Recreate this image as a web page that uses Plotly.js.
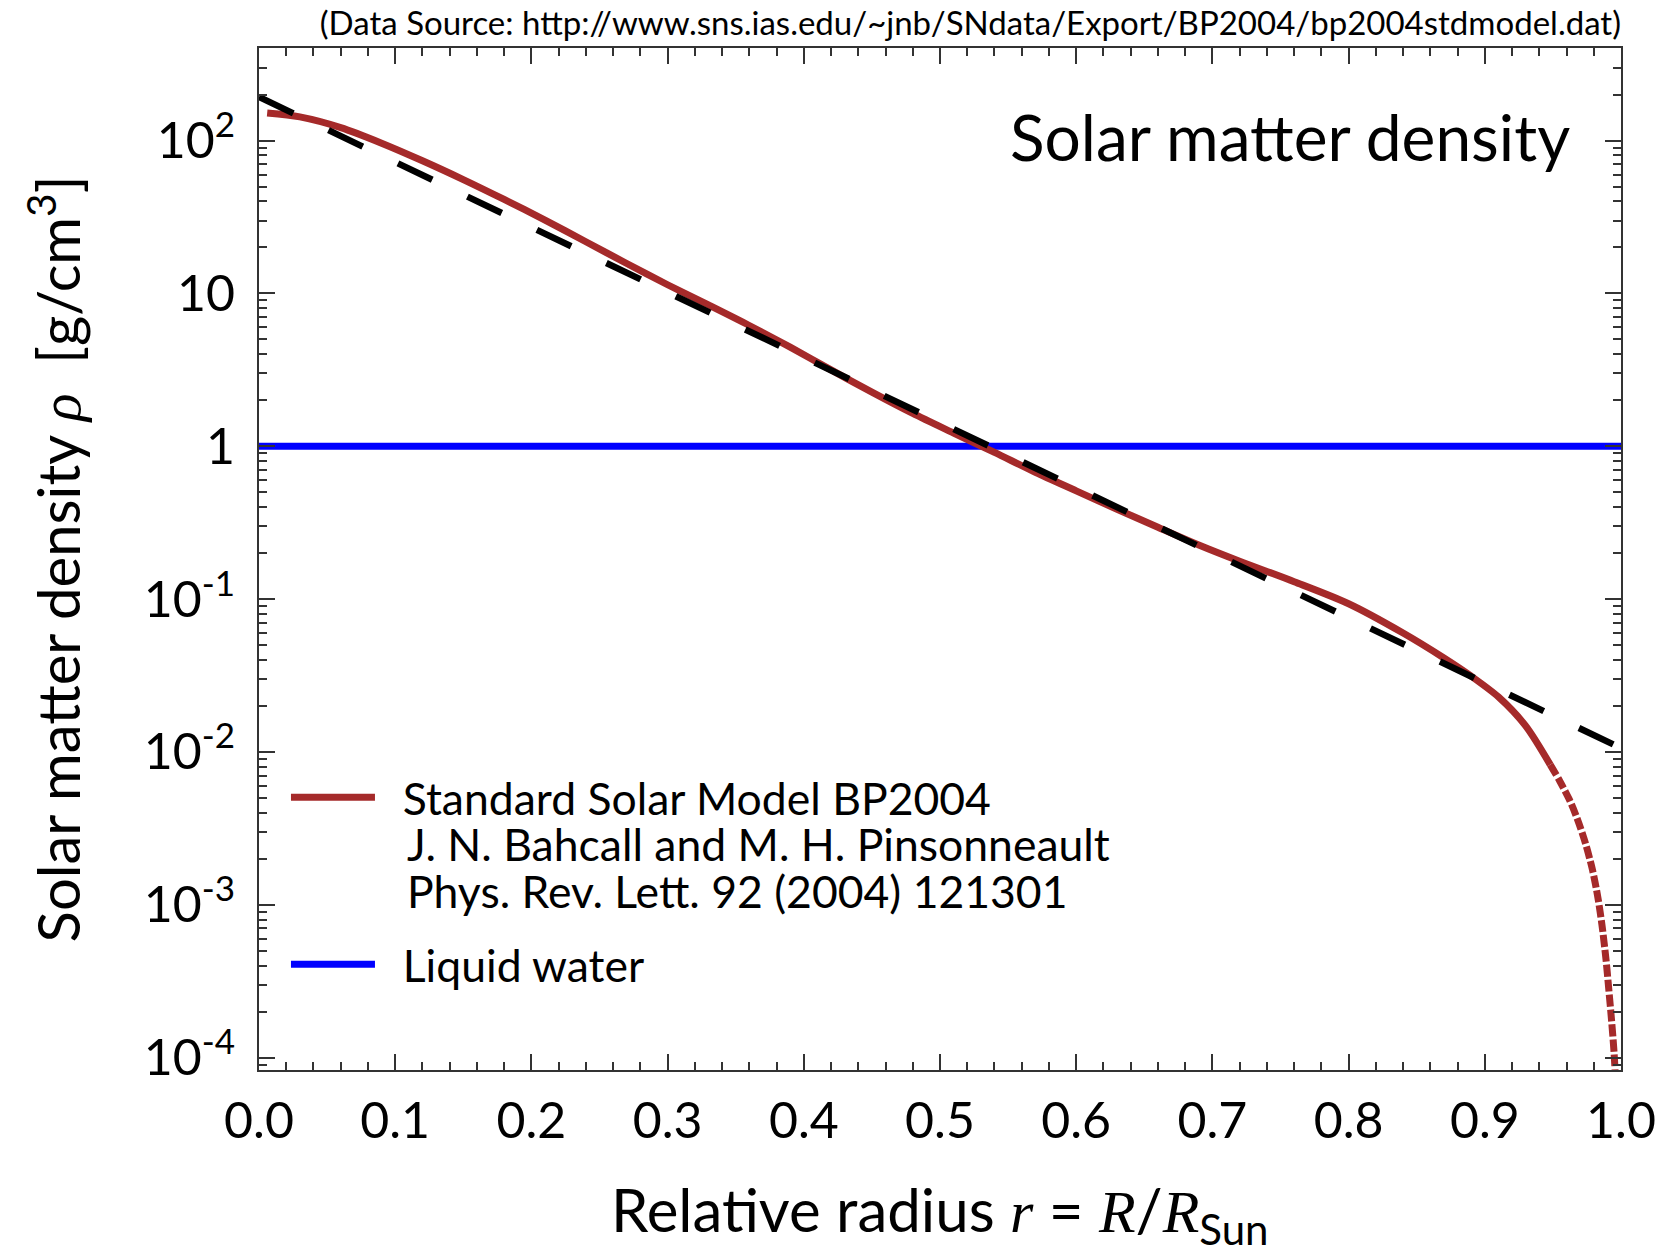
<!DOCTYPE html>
<html>
<head>
<meta charset="utf-8">
<script src="https://cdn.plot.ly/plotly-3.0.1.min.js"></script>
<style>
  html, body { margin: 0; padding: 0; background: #ffffff; }
  #chart { width: 1670px; height: 1248px; }
</style>
</head>
<body>
<div id="chart"></div>
<script>
// Standard Solar Model BP2004: matter density versus relative radius
const ssmRadius = [0.006, 0.03, 0.06, 0.09, 0.12, 0.15, 0.18, 0.21, 0.24, 0.27,
                   0.30, 0.33, 0.36, 0.39, 0.42, 0.45, 0.48, 0.51, 0.54, 0.57,
                   0.60, 0.63, 0.66, 0.69, 0.72, 0.76, 0.80, 0.84, 0.87, 0.89,
                   0.91, 0.93, 0.948];
const ssmDensity = [151.7, 142.9, 121.6, 96.2, 73.8, 55.6, 41.2, 30.2, 21.8, 15.7,
                    11.4, 8.41, 6.17, 4.45, 3.16, 2.26, 1.64, 1.22, 0.912, 0.676,
                    0.511, 0.387, 0.295, 0.226, 0.177, 0.130, 0.0933, 0.0600, 0.0412, 0.0313,
                    0.0229, 0.0148, 0.00826];

// Outer layers near the surface (drawn dotted)
const surfaceRadius = [0.948, 0.955, 0.962, 0.968, 0.974, 0.979, 0.983, 0.986, 0.989,
                       0.991, 0.993, 0.995, 0.9965];
const surfaceDensity = [0.00826, 0.00646, 0.00490, 0.00363, 0.00251, 0.00170, 0.00112,
                        0.000741, 0.000437, 0.000282, 0.000178, 0.000105, 0.0000562];

// Exponential approximation (straight line on the log scale)
const fitRadius = [0, 1];
const fitDensity = [193, 0.0106];

// Liquid water reference density
const waterRadius = [0, 1];
const waterDensity = [1, 1];

// Axis tick labels
const yTickVals = [1e-4, 1e-3, 1e-2, 1e-1, 1, 10, 100];
const yTickText = ['10<sup>-4</sup>', '10<sup>-3</sup>', '10<sup>-2</sup>', '10<sup>-1</sup>', '1', '10', '10<sup>2</sup>'];

const legendLines = ['Standard Solar Model BP2004',
                     'J. N. Bahcall and M. H. Pinsonneault',
                     'Phys. Rev. Lett. 92 (2004) 121301'];
const waterLabel = 'Liquid water';
const panelTitle = 'Solar matter density';
const sourceNote = '(Data Source: http://www.sns.ias.edu/~jnb/SNdata/Export/BP2004/bp2004stdmodel.dat)';

// minor ticks at 2..9 within each decade
const yMinorVals = [];
for (let e = -5; e <= 2; e++) {
  for (let m = 2; m <= 9; m++) yMinorVals.push(m * Math.pow(10, e));
}

const SANS = 'Lato, "Open Sans", sans-serif';
const MATH = 'font-family:Liberation Serif;font-style:italic';
const AXIS = '#333333';
const BROWN = '#a52a2a';
const GAP = '\u00a0\u00a0';   // space between legend sample and its label

const xTitle = 'Relative radius <span style="' + MATH + '">r</span> = <span style="' + MATH + '">R</span>/<span style="' + MATH + '">R</span><sub>Sun</sub>';

const traces = [
  {
    x: waterRadius, y: waterDensity, type: 'scatter', mode: 'lines',
    name: GAP + waterLabel, legendgroup: 'water', legendrank: 2,
    line: { color: '#0000ff', width: 7 }
  },
  {
    x: ssmRadius, y: ssmDensity, type: 'scatter', mode: 'lines',
    name: GAP + legendLines[0], legendgroup: 'ssm', legendrank: 1,
    line: { color: BROWN, width: 7, shape: 'spline', smoothing: 0.8 }
  },
  {
    x: surfaceRadius, y: surfaceDensity, type: 'scatter', mode: 'lines',
    showlegend: false, legendgroup: 'ssm',
    line: { color: BROWN, width: 7, dash: '12px,3px', shape: 'spline', smoothing: 0.8 }
  },
  {
    x: fitRadius, y: fitDensity, type: 'scatter', mode: 'lines',
    showlegend: false,
    line: { color: '#000000', width: 6.5, dash: '38px,39px' }
  }
];

const tickCommon = {
  ticks: 'inside', ticklen: 16, tickwidth: 2, tickcolor: AXIS,
  showline: true, linecolor: AXIS, linewidth: 2, mirror: 'ticks',
  showgrid: false, zeroline: false
};

const layout = {
  width: 1670, height: 1248,
  margin: { l: 259, r: 49, t: 48, b: 178, pad: 0 },
  paper_bgcolor: '#ffffff', plot_bgcolor: '#ffffff',
  font: { family: SANS, color: '#000000' },
  title: {
    text: sourceNote, x: 1, xref: 'paper', xanchor: 'right',
    y: 1 - 23 / 1248, yref: 'container', yanchor: 'middle',
    font: { size: 33, family: SANS, color: '#000000' }
  },
  xaxis: Object.assign({}, tickCommon, {
    range: [0, 1], tickmode: 'linear', tick0: 0, dtick: 0.1, tickformat: '.1f',
    tickfont: { size: 50, family: SANS },
    ticklabelstandoff: 6,
    minor: { ticks: 'inside', ticklen: 8, tickwidth: 2, tickcolor: AXIS, tick0: 0, dtick: 0.02, showgrid: false }
  }),
  yaxis: Object.assign({}, tickCommon, {
    type: 'log', range: [-4.081, 2.606],
    tickmode: 'array', tickvals: yTickVals, ticktext: yTickText,
    tickfont: { size: 50, family: SANS },
    ticklabelstandoff: 12,
    minor: { ticks: 'inside', ticklen: 8, tickwidth: 2, tickcolor: AXIS, tickmode: 'array', tickvals: yMinorVals, showgrid: false },
    title: {
      text: 'Solar matter density <span style="' + MATH + '">ρ</span>  [g/cm<sup>3</sup>]',
      font: { size: 58, family: SANS }, standoff: 44
    }
  }),
  showlegend: true,
  legend: {
    x: 0.0198, y: 0.3015, xanchor: 'left', yanchor: 'top',
    bgcolor: 'rgba(0,0,0,0)', borderwidth: 0,
    font: { size: 44.5, family: SANS, color: '#000000' },
    itemwidth: 84, traceorder: 'grouped', tracegroupgap: 106,
    valign: 'middle'
  },
  annotations: [
    {
      text: xTitle, xref: 'paper', yref: 'paper', x: 0.5, y: -0.0985,
      xanchor: 'center', yanchor: 'top', showarrow: false,
      font: { size: 60, family: SANS, color: '#000000' }
    },
    {
      text: panelTitle, xref: 'paper', yref: 'paper', x: 0.964, y: 0.913,
      xanchor: 'right', yanchor: 'middle', showarrow: false,
      font: { size: 64, family: SANS, color: '#000000' }
    },
    {
      text: legendLines[1], xref: 'paper', yref: 'paper', x: 0.1072, y: 0.2212,
      xanchor: 'left', yanchor: 'middle', showarrow: false,
      font: { size: 44.5, family: SANS, color: '#000000' }
    },
    {
      text: legendLines[2], xref: 'paper', yref: 'paper', x: 0.1072, y: 0.1755,
      xanchor: 'left', yanchor: 'middle', showarrow: false,
      font: { size: 44.5, family: SANS, color: '#000000' }
    }
  ]
};

Plotly.newPlot('chart', traces, layout, { staticPlot: true, displayModeBar: false });
</script>
</body>
</html>
